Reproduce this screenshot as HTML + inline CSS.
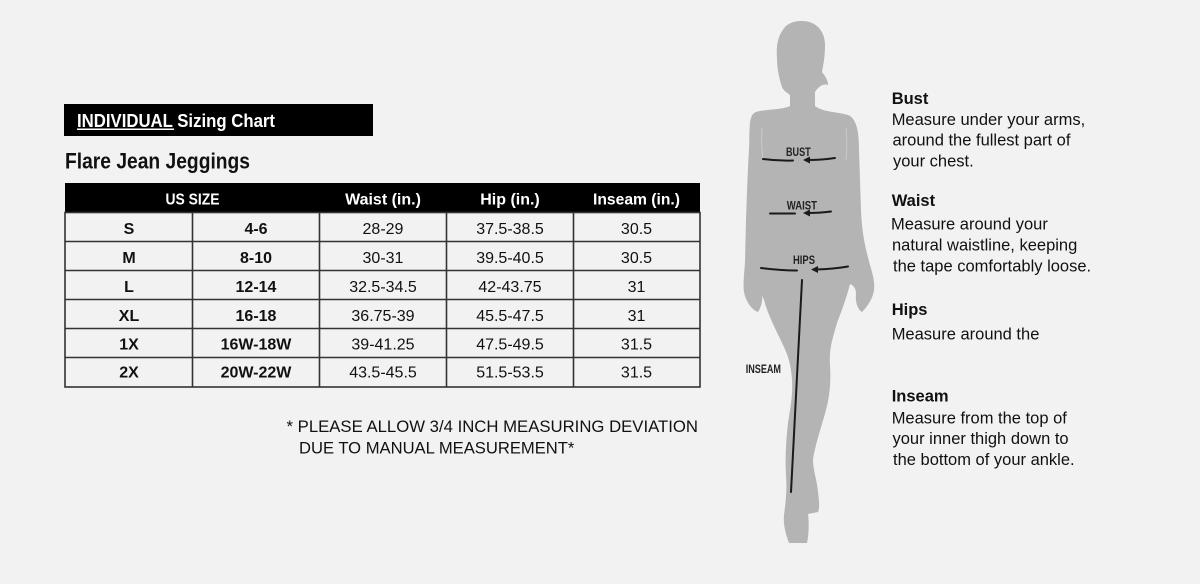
<!DOCTYPE html>
<html>
<head>
<meta charset="utf-8">
<style>
  html,body{margin:0;padding:0;background:#f2f2f2;}
  svg{display:block;}
  text{font-family:"Liberation Sans", Arial, sans-serif;}
</style>
</head>
<body>
<svg width="1200" height="584" viewBox="0 0 1200 584" xmlns="http://www.w3.org/2000/svg">
  <rect x="0" y="0" width="1200" height="584" fill="#f2f2f2"/>

  <!-- Title bar -->
  <rect x="64" y="104" width="309" height="32" fill="#000"/>
  <text x="77" y="127" fill="#fff" font-size="18" font-weight="bold" textLength="198" lengthAdjust="spacingAndGlyphs">INDIVIDUAL Sizing Chart</text>
  <line x1="77" y1="129.3" x2="174" y2="129.3" stroke="#fff" stroke-width="1.5"/>

  <text x="65" y="168.5" fill="#111" font-size="22" font-weight="bold" textLength="185" lengthAdjust="spacingAndGlyphs">Flare Jean Jeggings</text>

  <!-- Table -->
  <rect x="65" y="183" width="635" height="30" fill="#000"/>
  <g stroke="#333" stroke-width="1.6" fill="none">
    <rect x="65" y="212.5" width="635" height="174.5"/>
    <line x1="65" y1="241.5" x2="700" y2="241.5"/>
    <line x1="65" y1="270.5" x2="700" y2="270.5"/>
    <line x1="65" y1="299.5" x2="700" y2="299.5"/>
    <line x1="65" y1="328.5" x2="700" y2="328.5"/>
    <line x1="65" y1="357.5" x2="700" y2="357.5"/>
    <line x1="192.5" y1="212.5" x2="192.5" y2="387"/>
    <line x1="319.5" y1="212.5" x2="319.5" y2="387"/>
    <line x1="446.5" y1="212.5" x2="446.5" y2="387"/>
    <line x1="573.5" y1="212.5" x2="573.5" y2="387"/>
  </g>

  <g fill="#fff" font-size="16" font-weight="bold" text-anchor="middle">
    <text x="192.5" y="204.5" textLength="54" lengthAdjust="spacingAndGlyphs">US SIZE</text>
    <text x="383" y="204.5">Waist (in.)</text>
    <text x="510" y="204.5">Hip (in.)</text>
    <text x="636.5" y="204.5" textLength="87" lengthAdjust="spacingAndGlyphs">Inseam (in.)</text>
  </g>

  <g fill="#111" font-size="16" font-weight="bold" text-anchor="middle">
    <text x="129" y="234">S</text><text x="256" y="234">4-6</text>
    <text x="129" y="263">M</text><text x="256" y="263">8-10</text>
    <text x="129" y="292">L</text><text x="256" y="292">12-14</text>
    <text x="129" y="321">XL</text><text x="256" y="321">16-18</text>
    <text x="129" y="349.5">1X</text><text x="256" y="349.5">16W-18W</text>
    <text x="129" y="377.5">2X</text><text x="256" y="377.5">20W-22W</text>
  </g>
  <g fill="#111" font-size="16" text-anchor="middle">
    <text x="383" y="234">28-29</text><text x="510" y="234">37.5-38.5</text><text x="636.5" y="234">30.5</text>
    <text x="383" y="263">30-31</text><text x="510" y="263">39.5-40.5</text><text x="636.5" y="263">30.5</text>
    <text x="383" y="292">32.5-34.5</text><text x="510" y="292">42-43.75</text><text x="636.5" y="292">31</text>
    <text x="383" y="321">36.75-39</text><text x="510" y="321">45.5-47.5</text><text x="636.5" y="321">31</text>
    <text x="383" y="349.5">39-41.25</text><text x="510" y="349.5">47.5-49.5</text><text x="636.5" y="349.5">31.5</text>
    <text x="383" y="377.5">43.5-45.5</text><text x="510" y="377.5">51.5-53.5</text><text x="636.5" y="377.5">31.5</text>
  </g>

  <!-- Footnote -->
  <g fill="#111" font-size="16.6">
    <text x="286.5" y="432" textLength="411.5" lengthAdjust="spacingAndGlyphs">* PLEASE ALLOW 3/4 INCH MEASURING DEVIATION</text>
    <text x="299" y="453.3">DUE TO MANUAL MEASUREMENT*</text>
  </g>

  <!-- Silhouette -->
  <path fill="#b4b4b4" d="
    M 802 21
    C 815 21 825 30 825 45
    C 825 58 823 66 822 72
    C 825 76 828 80 828 85
    C 823 83 818 87 815 92
    L 815 106
    C 822 112 838 112 848 115
    C 856 118 859 130 859 150
    L 861 210
    C 862 235 866 250 870 265
    C 873 275 875 283 874 290
    C 873 298 868 306 862 312
    C 858 310 855 302 856 294
    C 856 288 853 285 850 284
    C 846 300 840 315 837 323
    C 832 340 829 350 830 365
    C 831 380 830 395 826 410
    C 822 425 815 445 813 460
    C 813 470 817 480 818 492
    C 819 500 820 508 818 512
    L 808 514
    C 809 520 809 535 807 543
    L 789 543
    C 786 535 783 525 784 515
    C 786 500 787 490 786 475
    C 785 460 786 440 788 423
    C 790 410 793 395 792 380
    C 791 365 788 355 783 345
    C 776 330 768 315 764 300
    C 762 296 762 292 762 290
    C 763 298 762 306 758 312
    C 752 310 746 302 744 292
    C 743 285 744 275 745 262
    L 746 220
    C 747 190 748 165 749 150
    C 750 128 748 115 756 112
    C 766 109 782 110 790 106
    L 790 95
    C 786 92 783 90 782 87
    C 779 78 777 68 777 58
    C 776 45 778 35 785 27
    C 790 22 796 21 802 21 Z"/>
  <!-- faint arm separation lines -->
  <g stroke="#c9c9c9" stroke-width="1" fill="none">
    <path d="M 762 128 C 761 140 762 150 763 160"/>
    <path d="M 846 128 C 847 140 847 150 846 160"/>
  </g>

  <!-- Measurement marks -->
  <g stroke="#1a1a1a" stroke-width="2" fill="none" stroke-linecap="round">
    <path d="M 763 159 Q 778 161 793 160.5"/>
    <path d="M 808 160 Q 822 160 835 158"/>
    <path d="M 770 213.5 L 795 213.5"/>
    <path d="M 808 213 Q 820 213 831 211.5"/>
    <path d="M 761 268 Q 780 270.5 797 270.5"/>
    <path d="M 816 269.5 Q 834 269 848 266.5"/>
    <path d="M 802 280 L 791 492"/>
  </g>
  <g fill="#1a1a1a">
    <polygon points="803,160 810,156.5 810,163.5"/>
    <polygon points="803,213 810,209.5 810,216.5"/>
    <polygon points="811,269.5 818,266 818,273"/>
  </g>
  <g fill="#222" font-size="12" font-weight="bold">
    <text x="786" y="156" textLength="24.7" lengthAdjust="spacingAndGlyphs">BUST</text>
    <text x="786.7" y="209.3" textLength="30.3" lengthAdjust="spacingAndGlyphs">WAIST</text>
    <text x="793" y="264" textLength="22" lengthAdjust="spacingAndGlyphs">HIPS</text>
    <text x="745.7" y="373" textLength="35.3" lengthAdjust="spacingAndGlyphs">INSEAM</text>
  </g>

  <!-- Right descriptions -->
  <g fill="#111" font-size="16.5">
    <text x="891.7" y="104" font-weight="bold">Bust</text>
    <text x="891.7" y="125">Measure under your arms,</text>
    <text x="892.5" y="145.7">around the fullest part of</text>
    <text x="893" y="166.3">your chest.</text>

    <text x="891.7" y="206" font-weight="bold">Waist</text>
    <text x="891" y="229.5">Measure around your</text>
    <text x="892" y="250.3">natural waistline, keeping</text>
    <text x="893" y="271.7">the tape comfortably loose.</text>

    <text x="891.7" y="315" font-weight="bold">Hips</text>
    <text x="891.7" y="339.5">Measure around the</text>

    <text x="891.7" y="401.7" font-weight="bold">Inseam</text>
    <text x="891.7" y="423.3">Measure from the top of</text>
    <text x="892.5" y="444">your inner thigh down to</text>
    <text x="893" y="465">the bottom of your ankle.</text>
  </g>
</svg>
</body>
</html>
